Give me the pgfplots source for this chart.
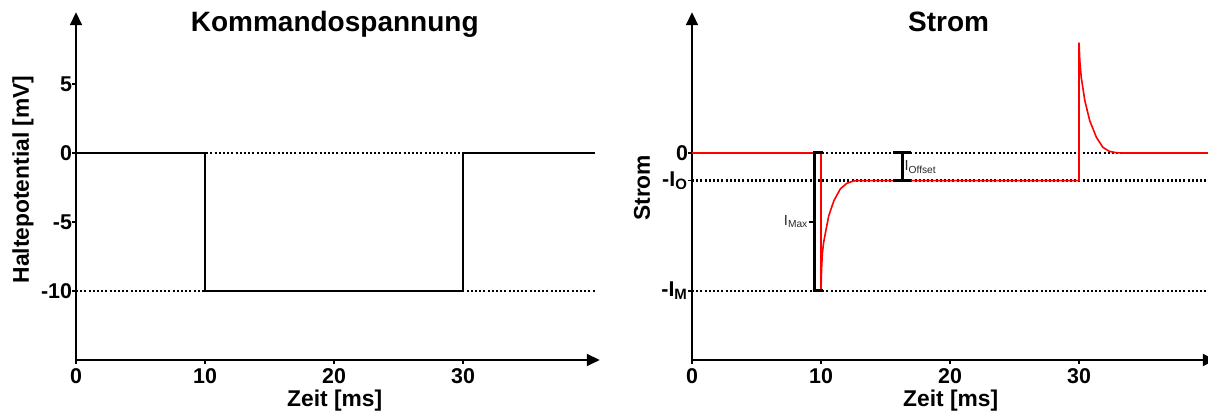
\documentclass[border=0pt]{standalone}
\usepackage{fontspec}
\setmainfont{Liberation Sans}
\usepackage{pgfplots}
\pgfplotsset{compat=1.18}
\usetikzlibrary{arrows.meta}

\definecolor{annot}{RGB}{40,40,40}

\pgfplotsset{
  clamp/.style={
    x=6.45pt, y=6.9pt,
    xmin=0, xmax=40.6, ymin=-15, ymax=10.2,
    enlargelimits=false,
    axis lines=left,
    axis line style={line width=1pt, -{Triangle[length=6.5pt,width=6pt]}},
    tick align=outside,
    major tick length=2pt,
    tick style={line width=0.7pt, black},
    xtick={0,10,20,30},
    /pgf/number format/assume math mode=true,
    ticklabel style={font=\bfseries\fontsize{10.7}{12}\selectfont},
    xticklabel style={yshift=1.5pt},
    yticklabel style={xshift=3.5pt},
    every axis title/.style={font=\bfseries\fontsize{14}{16}\selectfont, anchor=base},
    every axis x label/.style={at={(axis description cs:0.494,0)}, anchor=base,
      yshift=-23.5pt, font=\bfseries\fontsize{11.4}{13}\selectfont},
    clip=false,
  },
  dots/.style={black, line width=1.15pt, dash pattern=on 1pt off 1.1pt},
}

\begin{document}
\begin{tikzpicture}
\useasboundingbox (0,0) rectangle (604pt,208pt);

% Kommandospannung
\begin{axis}[clamp, at={(38pt,28pt)}, anchor=south west,
  title style={at={(axis description cs:0.494,0.945)}},
  title={Kommandospannung},
  xlabel={Zeit [ms]},
  ylabel={Haltepotential [mV]},
  every axis y label/.style={at={(axis description cs:0,0.519)}, rotate=90,
    anchor=center, yshift=26.5pt, font=\bfseries\fontsize{11.4}{13}\selectfont},
  ytick={-10,-5,0,5},
]
\addplot[dots] coordinates {(0,0) (40.2,0)};
\addplot[dots] coordinates {(0,-10) (40.2,-10)};
\addplot[black, line width=0.8pt] coordinates {(0,0) (10,0) (10,-10) (30,-10) (30,0) (40.2,0)};
\end{axis}

% Strom
\begin{axis}[clamp, at={(346pt,28pt)}, anchor=south west,
  title style={at={(axis description cs:0.49,0.945)}},
  title={Strom},
  xlabel={Zeit [ms]},
  ylabel={Strom},
  every axis y label/.style={at={(axis description cs:0,0.495)}, rotate=90,
    anchor=center, yshift=25pt, font=\bfseries\fontsize{11.4}{13}\selectfont},
  ytick={-10,-2,0},
  yticklabels={-I\textsubscript{M}, -I\textsubscript{O}, 0},
]
\addplot[dots] coordinates {(0,0) (40.6,0)};
\addplot[dots] coordinates {(0,-2) (40.6,-2)};
\addplot[dots] coordinates {(0,-10) (40.6,-10)};
\addplot[red, line width=0.8pt] coordinates {
  (0,0) (10,0) (10,-10) (10.04,-8.5) (10.1,-7.3) (10.2,-6.5) (10.35,-5.75)
  (10.6,-4.55) (11.0,-3.45) (11.5,-2.6) (12.0,-2.2) (12.5,-2.03) (13.0,-2.0)
  (30,-2) (30,8) (30.06,6.7) (30.17,5.5) (30.45,3.8) (30.83,2.34)
  (31.35,1.13) (31.85,0.41) (32.35,0.12) (32.9,0.02) (33.3,0) (40.6,0)};
% I_Max bracket
\addplot[black, line width=1.5pt] coordinates {(10.15,0) (9.53,0) (9.53,-10) (10.15,-10)};
\addplot[black, line width=0.7pt] coordinates {(9.05,-5) (9.53,-5)};
\node[anchor=base east, inner sep=0pt, text=annot, font=\fontsize{7.3}{8}\selectfont]
  at (axis cs:9.05,-5.27) {I\textsubscript{Max}};
% I_Offset bracket
\addplot[black, line width=1.5pt] coordinates {(16.3,0) (16.3,-2)};
\addplot[black, line width=1.5pt] coordinates {(15.6,0) (16.95,0)};
\addplot[black, line width=1.5pt] coordinates {(15.6,-2) (16.95,-2)};
\node[anchor=base west, inner sep=0pt, text=annot, font=\fontsize{7.3}{8}\selectfont]
  at (axis cs:16.45,-1.3) {I\textsubscript{Offset}};
\end{axis}
\end{tikzpicture}
\end{document}
